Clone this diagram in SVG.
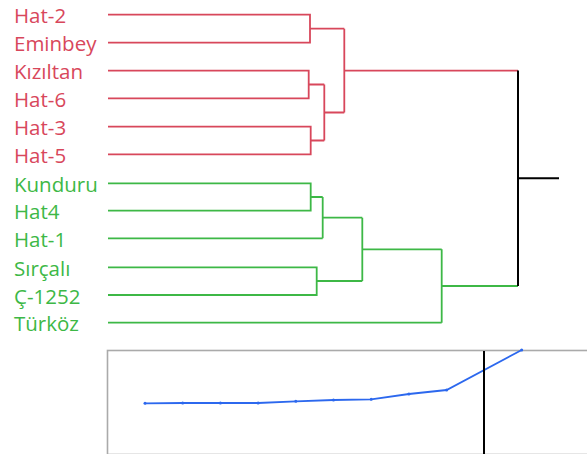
<svg xmlns="http://www.w3.org/2000/svg" width="587" height="454" viewBox="0 0 587 454">
<style>
text{font-family:"Open Sans","Noto Sans","DejaVu Sans",sans-serif;font-size:20.5px}
.r text{fill:#d8475b}
.g text{fill:#3db846}
.lr{stroke:#d8475b;stroke-width:1.8;fill:none}
.lg{stroke:#3db846;stroke-width:1.8;fill:none}
.lk{stroke:#000;stroke-width:2;fill:none}
</style>
<defs>
<marker id="dot" markerWidth="4" markerHeight="4" refX="2" refY="2" markerUnits="userSpaceOnUse"><circle cx="2" cy="2" r="1.5" fill="#2c68ee"/></marker>
</defs>
<rect width="587" height="454" fill="#fff"/>
<g class="r">
<g id="n-hat2"><text x="14" y="23.3">Hat-2</text></g>
<g id="n-eminbey"><text x="14" y="51.3">Eminbey</text></g>
<g id="n-kiziltan"><text x="14" y="79.3">Kızıltan</text></g>
<g id="n-hat6"><text x="14" y="107">Hat-6</text></g>
<g id="n-hat3"><text x="14" y="135.3">Hat-3</text></g>
<g id="n-hat5"><text x="14" y="163">Hat-5</text></g>
</g>
<g class="g">
<g id="n-kunduru"><text x="14" y="192">Kunduru</text></g>
<g id="n-hat4"><text x="14" y="219.3">Hat4</text></g>
<g id="n-hat1"><text x="14" y="247">Hat-1</text></g>
<g id="n-sircali"><text x="14" y="276">Sırçalı</text></g>
<g id="n-c1252"><text x="14" y="303.7">Ç-1252</text></g>
<g id="n-turkoz"><text x="14" y="331.3">Türköz</text></g>
</g>
<g id="connectors">
<path class="lr" d="M108 14.7H310V42.7H108M108 70.7H308.7V98.3H108M108 126.7H310.7V154.3H108M308.7 84.5H324.3M310.7 140.5H324.3M324.3 84.5V140.5M310 28.7H344.3M324.3 112.5H344.3M344.3 28.7V112.5M344.3 70.6H518"/>
<path class="lg" d="M108 183.3H310.7V210.7H108M310.7 197H322.7M108 238.3H322.7M322.7 197V238.3M108 267.3H316.7V295H108M322.7 217.7H362.3M316.7 281H362.3M362.3 217.7V281M108 322.7H441.7M362.3 249.3H441.7M441.7 249.3V322.7M441.7 286H518"/>
<path class="lk" d="M518 70.6V286M518 178.3H559"/>
</g>
<g id="elbow-chart">
<rect x="107.5" y="350.5" width="490" height="104" fill="#fff" stroke="#aaa" stroke-width="1.6"/>
<polyline points="145,403.3 182.7,403 220.4,403 258.1,403 295.8,401.3 333.5,400 371.2,399.3 408.9,394 446.6,390 521.7,350" fill="none" stroke="#2c68ee" stroke-width="1.8" marker-start="url(#dot)" marker-mid="url(#dot)" marker-end="url(#dot)"/>
<line x1="484" y1="351" x2="484" y2="454" stroke="#000" stroke-width="2"/>
</g>
</svg>
